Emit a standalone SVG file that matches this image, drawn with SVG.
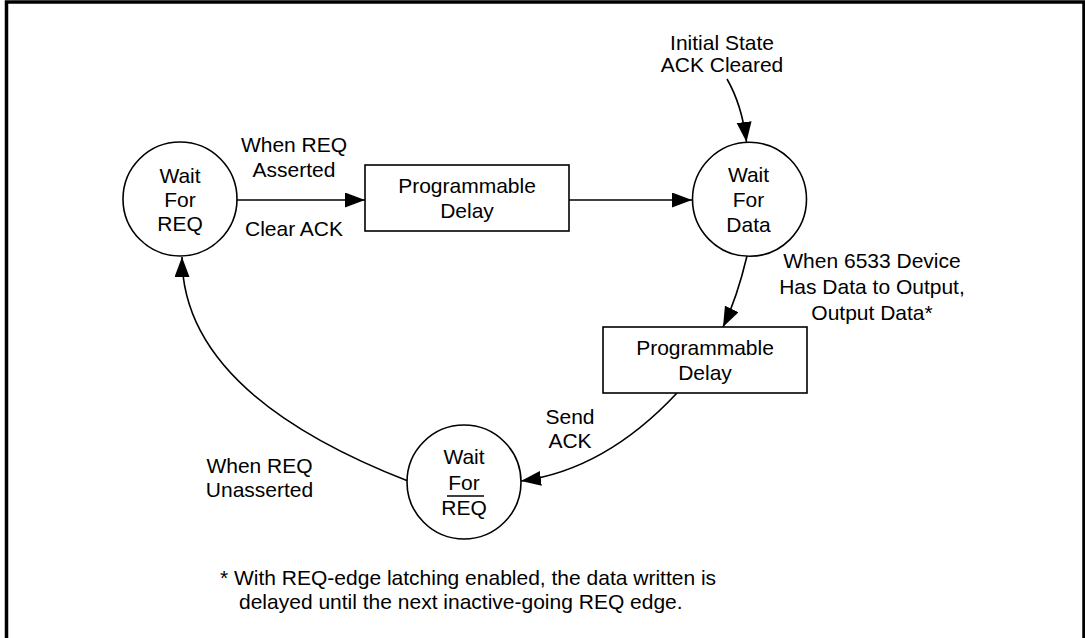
<svg xmlns="http://www.w3.org/2000/svg" width="1085" height="638" viewBox="0 0 1085 638">
<style>
text{font-family:"Liberation Sans",Arial,sans-serif;font-size:21px;fill:#000;}
.m{text-anchor:middle;}
.node{fill:#fff;stroke:#000;stroke-width:1.6;}
.edge{fill:none;stroke:#000;stroke-width:1.6;}
</style>
<defs>
<marker id="ah" markerUnits="userSpaceOnUse" markerWidth="21" markerHeight="16" refX="20" refY="7.5" orient="auto">
<path d="M0,0 L20,7.5 L0,15 z" fill="#000"/>
</marker>
</defs>
<rect x="6.5" y="2" width="1077.5" height="645" fill="#fff" stroke="#000" stroke-width="3.5"/>
<g id="connectors">
<path class="edge" d="M237,200 L365,200" marker-end="url(#ah)"/>
<path class="edge" d="M569,200 L692,200" marker-end="url(#ah)"/>
<path class="edge" d="M727,79 Q742,105 746.5,142" marker-end="url(#ah)"/>
<path class="edge" d="M747,256 Q737,298 723,327" marker-end="url(#ah)"/>
<path class="edge" d="M677,393 Q605,470 521,481" marker-end="url(#ah)"/>
<path class="edge" d="M408,481 Q182,393 182,257" marker-end="url(#ah)"/>
</g>
<g id="labels">
<text class="m" x="294" y="152">When REQ</text>
<text class="m" x="294" y="176.5">Asserted</text>
<text class="m" x="294" y="235.5">Clear ACK</text>
<text class="m" x="722" y="49.5">Initial State</text>
<text class="m" x="722" y="72">ACK Cleared</text>
<text class="m" x="872" y="268">When 6533 Device</text>
<text class="m" x="872" y="294">Has Data to Output,</text>
<text class="m" x="872" y="320">Output Data*</text>
<text class="m" x="570" y="424">Send</text>
<text class="m" x="570" y="448">ACK</text>
<text class="m" x="259.5" y="472.5">When REQ</text>
<text class="m" x="259.5" y="497">Unasserted</text>
<text x="220" y="585">* With REQ-edge latching enabled, the data written is</text>
<text x="239" y="609">delayed until the next inactive-going REQ edge.</text>
</g>
<g id="wait-for-req">
<circle class="node" cx="180" cy="199" r="57"/>
<text class="m" x="180" y="183">Wait</text>
<text class="m" x="180" y="207">For</text>
<text class="m" x="180" y="231">REQ</text>
</g>
<g id="delay-1">
<rect class="node" x="365" y="165" width="204" height="66"/>
<text class="m" x="467" y="193">Programmable</text>
<text class="m" x="467" y="218">Delay</text>
</g>
<g id="wait-for-data">
<circle class="node" cx="749.5" cy="199.3" r="57"/>
<text class="m" x="748.5" y="182">Wait</text>
<text class="m" x="748.5" y="206.5">For</text>
<text class="m" x="748.5" y="231.5">Data</text>
</g>
<g id="delay-2">
<rect class="node" x="603" y="327" width="204" height="66"/>
<text class="m" x="705" y="355">Programmable</text>
<text class="m" x="705" y="380">Delay</text>
</g>
<g id="wait-for-req-bar">
<circle class="node" cx="464" cy="482" r="57"/>
<text class="m" x="464" y="463.5">Wait</text>
<text class="m" x="464" y="490">For</text>
<line x1="447" y1="496" x2="484" y2="496" stroke="#000" stroke-width="1.6"/>
<text class="m" x="464" y="514.5">REQ</text>
</g>
</svg>
